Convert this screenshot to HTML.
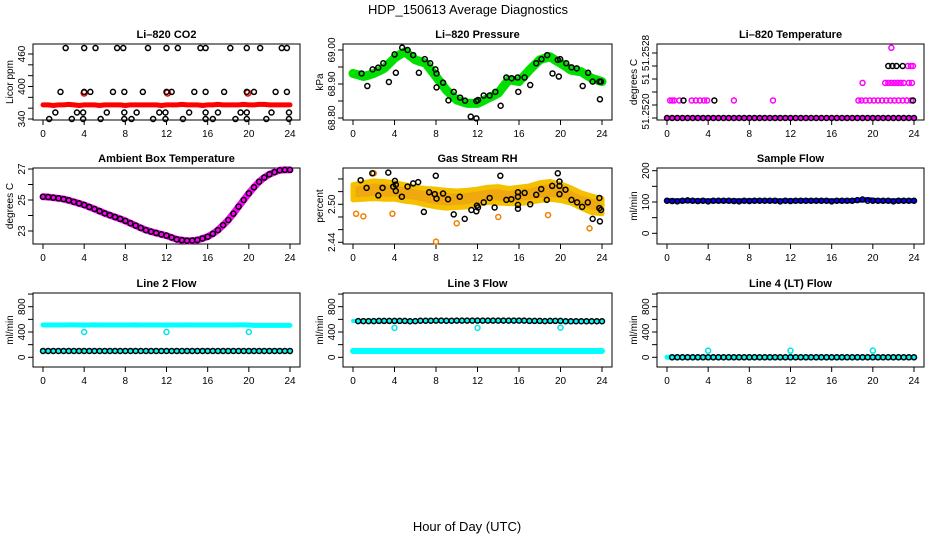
<!DOCTYPE html>
<html><head><meta charset="utf-8"><style>
html,body{margin:0;padding:0;background:#fff;}
svg{display:block;font-family:"Liberation Sans",sans-serif;}
</style></head><body>
<svg id="chart" width="936" height="540" viewBox="0 0 936 540" xmlns="http://www.w3.org/2000/svg">
<text x="468" y="14" font-size="13" text-anchor="middle">HDP_150613  Average Diagnostics</text>
<text x="467" y="531" font-size="13" text-anchor="middle">Hour of Day (UTC)</text>
</svg>
<script>
// ---------- data ----------
const xTicks=[0,4,8,12,16,20,24];
const halfHours=[0,0.5,1,1.5,2,2.5,3,3.5,4,4.5,5,5.5,6,6.5,7,7.5,8,8.5,9,9.5,10,10.5,11,11.5,12,12.5,13,13.5,14,14.5,15,15.5,16,16.5,17,17.5,18,18.5,19,19.5,20,20.5,21,21.5,22,22.5,23,23.5,24];
// CO2
const co2Red=[366,366,365,366,366,367,366,365,366,366,366,365,366,366,366,366,365,366,366,366,366,366,366,365,366,366,366,367,366,366,366,365,366,366,367,366,366,366,366,367,366,366,367,367,366,366,366,366,366];
const co2RedSpikeT=[4.0,12.1,19.9];
const co2RedSpikeV=[388,388,388];
const co2BlackT=[2.2,4.0,5.1,7.2,7.8,10.2,12.0,13.1,15.3,15.8,18.2,19.8,21.1,23.2,23.7, 1.7,4.0,4.6,6.8,7.9,9.7,12.0,12.5,14.7,15.8,17.6,19.8,20.5,22.6,23.7, 1.2,3.3,3.9,6.2,7.9,9.1,11.3,11.9,14.2,15.8,17.0,19.2,19.8,22.2,23.9, 0.6,2.8,3.9,5.6,7.9,8.6,10.7,11.9,13.6,15.8,16.5,18.7,19.8,21.7,23.9];
const co2BlackV=[471,471,471,471,471,471,471,471,471,471,471,471,471,471,471, 390,390,390,390,390,390,390,390,390,390,390,390,390,390,390, 352,352,352,352,352,352,352,352,352,352,352,352,352,352,352, 340,340,340,340,340,340,340,340,340,340,340,340,340,340,340];
// Pressure
const presGreen=[68.931,68.927,68.922,68.926,68.931,68.938,68.946,68.961,68.976,68.986,68.995,68.983,68.971,68.966,68.961,68.942,68.922,68.902,68.882,68.867,68.853,68.848,68.843,68.843,68.843,68.850,68.858,68.865,68.873,68.893,68.912,68.910,68.907,68.924,68.941,68.956,68.971,68.976,68.980,68.970,68.961,68.951,68.941,68.938,68.936,68.926,68.917,68.912,68.907];
const presBlackT=[0.83,1.38,1.89,2.43,2.92,3.46,4.01,4.13,4.74,5.26,5.8,6.35,6.92,7.44,7.95,8.05,8.05,8.68,9.2,9.71,10.32,10.8,11.35,11.89,11.89,12.05,12.6,13.17,13.72,14.23,14.78,15.29,15.87,15.93,16.54,17.08,17.66,18.17,18.72,19.23,19.74,19.84,19.97,20.55,21.06,21.57,22.14,22.66,23.1,23.75,23.8,23.9];
const presBlackV=[68.931,68.894,68.943,68.948,68.961,68.906,68.987,68.933,69.007,69.000,68.985,68.933,68.973,68.961,68.943,68.931,68.890,68.904,68.852,68.877,68.860,68.851,68.804,68.850,68.799,68.853,68.866,68.866,68.877,68.836,68.919,68.917,68.919,68.877,68.919,68.897,68.961,68.973,68.985,68.931,68.971,68.922,68.973,68.961,68.949,68.946,68.894,68.933,68.907,68.907,68.855,68.907];
// Li-820 temperature
const tempMagT=[0.3,0.5,0.7,1.2,2.4,2.8,3.2,3.6,3.9,6.5,10.3,18.6,18.9,19.3,19.7,20.1,20.5,20.9,21.3,21.7,22.1,22.5,22.9,23.3,23.7,19.0,21.2,21.5,21.8,22.1,22.4,22.7,23.0,23.5,23.8,23.4,23.7,23.9,21.8];
const tempMagV=[51.25207,51.25207,51.25207,51.25207,51.25207,51.25207,51.25207,51.25207,51.25207,51.25207,51.25207,51.25207,51.25207,51.25207,51.25207,51.25207,51.25207,51.25207,51.25207,51.25207,51.25207,51.25207,51.25207,51.25207,51.25207,51.25234,51.25234,51.25234,51.25234,51.25234,51.25234,51.25234,51.25234,51.25234,51.25234,51.2526,51.2526,51.2526,51.25288];
const tempBlackT=[1.6,4.6,21.5,21.9,22.3,22.9,23.9];
const tempBlackV=[51.25207,51.25207,51.2526,51.2526,51.2526,51.2526,51.25207];
const tempBase=51.2518;
// Ambient
const ambient=[25.21,25.19,25.15,25.11,25.06,24.98,24.88,24.78,24.68,24.55,24.42,24.28,24.14,24.02,23.90,23.78,23.65,23.50,23.35,23.20,23.06,22.96,22.87,22.78,22.70,22.58,22.46,22.41,22.37,22.38,22.42,22.52,22.63,22.82,23.06,23.38,23.71,24.12,24.57,25.00,25.43,25.82,26.18,26.45,26.66,26.80,26.92,26.94,26.94];
// RH
const rhHours=[0,1,2,3,4,5,6,7,8,9,10,11,12,13,14,15,16,17,18,19,20,21,22,23,24];
const rhCenter=[2.519,2.521,2.523,2.522,2.521,2.518,2.515,2.512,2.510,2.508,2.508,2.509,2.512,2.515,2.515,2.513,2.514,2.516,2.520,2.522,2.519,2.514,2.506,2.500,2.497];
const rhSpread=[0.012,0.013,0.014,0.014,0.013,0.013,0.012,0.013,0.014,0.014,0.013,0.013,0.012,0.012,0.013,0.012,0.013,0.013,0.014,0.014,0.013,0.012,0.012,0.013,0.012];
const rhOutT=[0.3,1.0,8.0,2.0,3.8,10.0,14.0,18.8,22.8];
const rhOutV=[2.485,2.481,2.441,2.549,2.485,2.470,2.480,2.483,2.462];
const rhBlackT=[0.74,1.31,1.86,2.44,2.85,3.40,3.88,4.04,4.13,4.13,4.71,5.26,5.80,6.28,6.83,7.34,7.88,7.98,8.05,8.68,9.16,9.71,10.29,10.77,11.41,11.89,11.95,12.05,12.6,13.17,13.65,14.2,14.78,15.26,15.9,15.9,15.9,15.9,16.54,17.08,17.66,18.14,18.68,19.2,19.74,19.9,19.9,19.9,20.48,21.06,21.6,22.09,22.63,23.1,23.75,23.75,23.8,23.9];
const rhBlackV=[2.538,2.526,2.549,2.514,2.526,2.550,2.528,2.537,2.531,2.521,2.512,2.528,2.533,2.535,2.488,2.519,2.516,2.545,2.509,2.517,2.508,2.484,2.512,2.477,2.491,2.489,2.498,2.495,2.503,2.510,2.495,2.545,2.507,2.508,2.519,2.512,2.499,2.493,2.518,2.500,2.515,2.524,2.507,2.529,2.549,2.536,2.529,2.516,2.523,2.507,2.503,2.496,2.503,2.477,2.510,2.494,2.473,2.491];
// Flows
const sampleBlue=[104,104,104,104,104,104,104,104,104,104,104,104,104,104,104,104,104,104,104,104,104,104,104,104,104,104,104,104,104,104,104,104,104,104,104,104,104,106,106,108,106,104,104,104,104,104,104,104,104];
const sampleBlack=[104,103,102,104,105,104,103,104,102,104,104,104,104,103,102,104,103,104,104,104,104,104,102,104,103,104,104,104,104,104,104,104,102,104,104,104,104,106,108,104,104,104,104,104,102,104,104,104,104];
const line2Cyan=[510,510,510,510,510,512,512,510,510,510,512,510,510,510,510,510,510,510,512,510,510,510,510,510,510,510,510,510,512,510,510,510,510,510,510,510,510,510,512,512,510,505,505,505,505,505,505,505,505];
const line2Black=[100,100,100,100,100,100,100,100,100,100,100,100,100,100,100,100,100,100,100,100,100,100,100,100,100,100,100,100,100,100,100,100,100,100,100,100,100,100,100,100,100,100,100,100,100,100,100,100,100];
const line3Black=[575,572,572,572,572,575,575,575,575,575,575,570,572,578,578,578,580,580,578,578,580,580,580,580,580,580,580,580,580,580,580,580,580,580,575,575,575,572,575,575,575,570,570,570,570,570,570,570,570];
const line3Cyan=[100,100,100,100,100,100,100,100,100,100,100,100,100,100,100,100,100,100,100,100,100,100,100,100,100,100,100,100,100,100,100,100,100,100,100,100,100,100,100,100,100,100,100,100,100,100,100,100,100];
const line4Black=[0,0,0,0,0,0,0,0,0,0,0,0,0,0,0,0,0,0,0,0,0,0,0,0,0,0,0,0,0,0,0,0,0,0,0,0,0,0,0,0,0,0,0,0,0,0,0,0,0];
const flowOutT=[4.0,12.0,20.0];
const line2OutV=[400,400,400];
const line3OutV=[465,465,470];
const line4OutV=[105,105,105];

// ---------- layout ----------
const NS='http://www.w3.org/2000/svg';
const svg=document.getElementById('chart');
const cols=[{x0:43,x24:290,l:33,r:300},{x0:353,x24:602,l:343,r:612},{x0:667,x24:914,l:657,r:924}];
const rows=[{t:44,b:120},{t:168,b:244},{t:293,b:367}];
function mk(tag,attrs,parent){const e=document.createElementNS(NS,tag);for(const k in attrs)e.setAttribute(k,attrs[k]);(parent||svg).appendChild(e);return e;}

function makePanel(name,c,r,title,ytitle,v1,p1,v2,p2,yticks,ylabels,ylabelText){
  const C=cols[c],R=rows[r];
  const g=mk('g',{});
  
  
  const xs=t=>C.x0+t*(C.x24-C.x0)/24;
  const ys=v=>p1+(v-v1)*(p2-p1)/(v2-v1);
  const box=mk('rect',{x:C.l,y:R.t,width:C.r-C.l,height:R.b-R.t,fill:'none',stroke:'#000','stroke-width':1},g);
  
  
  const tt=mk('text',{x:(C.l+C.r)/2,y:R.t-6,'font-size':11,'font-weight':'bold','text-anchor':'middle'},g);
  tt.textContent=title;
  
  
  // x axis
  const xa=mk('g',{},g);
  
  
  mk('line',{x1:xs(0),x2:xs(24),y1:R.b,y2:R.b,stroke:'#000'},xa);
  xTicks.forEach(t=>{
    mk('line',{x1:xs(t),x2:xs(t),y1:R.b,y2:R.b+5,stroke:'#000'},xa);
    const lb=mk('text',{x:xs(t),y:R.b+17,'font-size':10,'text-anchor':'middle'},xa);
    lb.textContent=t;
    
    
  });
  // y axis
  const ya=mk('g',{},g);
  
  
  mk('line',{x1:C.l,x2:C.l,y1:ys(yticks[0]),y2:ys(yticks[yticks.length-1]),stroke:'#000'},ya);
  yticks.forEach(v=>mk('line',{x1:C.l-5,x2:C.l,y1:ys(v),y2:ys(v),stroke:'#000'},ya));
  ylabels.forEach((v,i)=>{
    const y=ys(v);
    const lb=mk('text',{x:0,y:0,'font-size':10,'text-anchor':'middle',transform:`translate(${C.l-8},${y}) rotate(-90)`},ya);
    lb.textContent=ylabelText?ylabelText[i]:v;
    
    
  });
  const yt=mk('text',{x:0,y:0,'font-size':10,'text-anchor':'middle',transform:`translate(${C.l-20},${(R.t+R.b)/2}) rotate(-90)`},g);
  yt.textContent=ytitle;
  
  
  return {g,xs,ys};
}
function band(P,name,ts,vs,color,w){
  const pts=ts.map((t,i)=>P.xs(t)+','+P.ys(vs[i])).join(' ');
  const pl=mk('polyline',{points:pts,fill:'none',stroke:color,'stroke-width':w,'stroke-linejoin':'round','stroke-linecap':'round'},P.g);
  
  
}
function pts(P,name,ts,vs,color,r){
  const g=mk('g',{},P.g);
  
  
  ts.forEach((t,i)=>mk('circle',{cx:P.xs(t),cy:P.ys(vs[i]),r:r||2.5,fill:'none',stroke:color,'stroke-width':1.5},g));
}

// Panel 1 CO2
let P=makePanel('co2',0,0,'Li\u2013820 CO2','Licor ppm',340,119,460,54,[340,360,380,400,420,440,460],[340,400,460]);
band(P,'co2-red-series',halfHours,co2Red,'#ff0000',5);
pts(P,'co2-red-spikes',co2RedSpikeT,co2RedSpikeV,'#ff0000',3);
pts(P,'co2-black-points',co2BlackT,co2BlackV,'#000');
// Panel 2 Pressure
P=makePanel('pressure',1,0,'Li\u2013820 Pressure','kPa',68.80,118,69.00,50,[68.80,68.85,68.90,68.95,69.00],[68.80,68.90,69.00],['68.80','68.90','69.00']);
band(P,'pressure-green-series',halfHours,presGreen,'#00e000',9);
pts(P,'pressure-black-points',presBlackT,presBlackV,'#000');
// Panel 3 Li-820 temperature
P=makePanel('li820-temp',2,0,'Li\u2013820 Temperature','degrees C',51.2518,118,51.2528,53,[51.2518,51.2520,51.2522,51.2524,51.2526,51.2528],[51.2519,51.2524,51.2528],['51.2520','51','51.2528']);
band(P,'temp-magenta-base',[0,24],[tempBase,tempBase],'#ff00ff',5);
pts(P,'temp-black-base',halfHours,halfHours.map(()=>tempBase),'#000');
pts(P,'temp-magenta-points',tempMagT,tempMagV,'#ff00ff');
pts(P,'temp-black-points',tempBlackT,tempBlackV,'#000');
// Panel 4 Ambient
P=makePanel('ambient',0,1,'Ambient Box Temperature','degrees C',23,231,27,169,[23,24,25,26,27],[23,25,27]);
band(P,'ambient-magenta-series',halfHours,ambient,'#ff00ff',7);
pts(P,'ambient-black-points',halfHours,ambient,'#000');
// Panel 5 RH
P=makePanel('rh',1,1,'Gas Stream RH','percent',2.44,242.3,2.50,204.3,[2.44,2.46,2.48,2.50,2.52,2.54],[2.44,2.50],['2.44','2.50']);
{
  const up=rhHours.map((t,i)=>P.xs(t)+','+P.ys(rhCenter[i]+rhSpread[i]));
  const dn=rhHours.map((t,i)=>P.xs(t)+','+P.ys(rhCenter[i]-rhSpread[i])).reverse();
  const pg=mk('polygon',{points:up.concat(dn).join(' '),fill:'#f0a810',stroke:'#f5c000','stroke-width':5,'stroke-linejoin':'round'},P.g);
  
  
}
pts(P,'rh-orange-outliers',rhOutT,rhOutV,'#f08000');
pts(P,'rh-black-points',rhBlackT,rhBlackV,'#000');
// Panel 6 Sample flow
P=makePanel('sample-flow',2,1,'Sample Flow','ml/min',0,233.3,200,170.7,[0,50,100,150,200],[0,100,200]);
band(P,'sample-blue-series',halfHours,sampleBlue,'#0000ff',5);
pts(P,'sample-black-points',halfHours,sampleBlack,'#000');
// Row 3 flows
const fT=[0,200,400,600,800,1000],fL=[0,400,800];
P=makePanel('line2-flow',0,2,'Line 2 Flow','ml/min',0,357.3,800,306.7,fT,fL);
band(P,'line2-cyan-series',halfHours,line2Cyan,'#00ffff',5);
pts(P,'line2-cyan-outliers',flowOutT,line2OutV,'#00e5e5');
band(P,'line2-black-band',halfHours,line2Black,'#00ffff',5);
pts(P,'line2-black-points',halfHours,line2Black,'#000');
P=makePanel('line3-flow',1,2,'Line 3 Flow','ml/min',0,357.3,800,306.7,fT,fL);
band(P,'line3-cyan-series',halfHours,line3Cyan,'#00ffff',6);
band(P,'line3-cyan-upper',halfHours,line3Black,'#00ffff',4);
pts(P,'line3-cyan-outliers',flowOutT,line3OutV,'#00e5e5');
pts(P,'line3-black-points',halfHours.slice(1),line3Black.slice(1),'#000');
P=makePanel('line4-flow',2,2,'Line 4 (LT) Flow','ml/min',0,357.3,800,306.7,fT,fL);
band(P,'line4-cyan-series',halfHours,line4Black,'#00ffff',5);
pts(P,'line4-cyan-outliers',flowOutT,line4OutV,'#00e5e5');
pts(P,'line4-black-points',halfHours.slice(1),line4Black.slice(1),'#000');
</script>
</body></html>
